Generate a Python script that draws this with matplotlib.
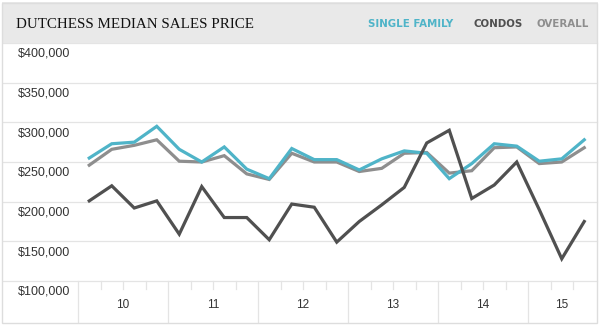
import matplotlib
matplotlib.use("Agg")
import matplotlib.pyplot as plt
import matplotlib.transforms as mtransforms
from matplotlib.patches import Rectangle
from matplotlib import font_manager

# Quarterly median sales prices, Q1 2010 through Q3 2015 (dollars)
single_family = [255000, 273000, 275000, 295000, 266000, 250000, 269000, 241000,
                 229000, 267000, 253000, 253000, 240000, 254000, 264000, 261000,
                 229000, 248000, 273000, 270000, 251000, 254000, 278000]
condos = [201000, 220000, 192000, 201000, 159000, 219000, 180000, 180000,
          152000, 197000, 193000, 149000, 175000, 196000, 218000, 274000,
          290000, 204000, 221000, 250000, 190000, 128000, 175000]
overall = [246000, 266000, 271000, 278000, 251000, 250000, 258000, 235000,
           228000, 261000, 250000, 250000, 238000, 242000, 261000, 262000,
           236000, 239000, 268000, 269000, 248000, 250000, 268000]

years = ["10", "11", "12", "13", "14", "15"]
quarters_per_year = [4, 4, 4, 4, 4, 3]
y_ticks = [100000, 150000, 200000, 250000, 300000, 350000, 400000]

TEAL = "#4fb4c8"
DARK = "#505050"
GRAY = "#8e8e8e"

# pick a condensed bold face for the legend words if one is installed
legend_font = None
for f in font_manager.fontManager.ttflist:
    if f.stretch in ("condensed", "semi-condensed", "extra-condensed") and \
            (f.weight in ("bold", 700) or str(f.weight) == "700"):
        legend_font = font_manager.FontProperties(fname=f.fname, size=8.2)
        break
if legend_font is None:
    legend_font = font_manager.FontProperties(family="Liberation Sans", weight="bold", size=8.1)

W, H = 600, 326
fig = plt.figure(figsize=(W / 100, H / 100), dpi=100)

def fx(px):
    return px / W

def fy(py):
    return 1 - py / H

# header band and outer frame
fig.patches.append(Rectangle((fx(2), fy(43)), fx(596), 41 / H, transform=fig.transFigure,
                             facecolor="#e9e9e9", edgecolor="none", zorder=0))
fig.patches.append(Rectangle((fx(2), fy(323)), fx(595), 320 / H, transform=fig.transFigure,
                             facecolor="none", edgecolor="#dddddd", lw=1, zorder=5))

fig.text(fx(16), fy(24), "DUTCHESS MEDIAN SALES PRICE", family="Liberation Serif",
         fontsize=10.8, color="#111111", va="center", ha="left")
for label, color, cx in [("SINGLE FAMILY", TEAL, 411), ("CONDOS", DARK, 498.5),
                         ("OVERALL", GRAY, 562.5)]:
    fig.text(fx(cx), fy(24), label, fontproperties=legend_font,
             color=color, va="center", ha="center")

left, right, top, bottom = 78, 595.5, 43, 281
ax = fig.add_axes([fx(left), fy(bottom), fx(right - left), (bottom - top) / H])
ax.set_xlim(-0.5, len(single_family) - 0.5)
ax.set_ylim(100000, 400000)
ax.axis("off")

span = right - left
xmin_grid = (3 - left) / span
xmax_grid = (597 - left) / span
ytrans = mtransforms.blended_transform_factory(ax.transAxes, ax.transData)
for v in y_ticks:
    ax.axhline(v, xmin=xmin_grid, xmax=xmax_grid, color="#e4e4e4", lw=0.9,
               clip_on=False, zorder=0)
    ax.annotate(f"${v:,}", xy=((18 - left) / span, v), xycoords=ytrans,
                xytext=(0, -3.5), textcoords="offset points", ha="left", va="top",
                family="Liberation Sans", fontsize=9, color="#333333")

# year separators, quarter ticks and year labels
xtrans = mtransforms.blended_transform_factory(ax.transData, ax.transAxes)
axis_depth = (322 - bottom) / (bottom - top)
tick_len = 8 / (bottom - top)
start = 0
for yr, nq in zip(years, quarters_per_year):
    b = start - 0.5
    ax.plot([b, b], [0, -axis_depth], transform=xtrans, color="#e4e4e4", lw=0.9,
            clip_on=False)
    for q in range(1, nq):
        t = b + q
        ax.plot([t, t], [0, -tick_len], transform=xtrans, color="#e4e4e4", lw=0.9,
                clip_on=False)
    ax.text(start + (nq - 1) / 2, -(305 - bottom) / (bottom - top), yr,
            transform=xtrans, ha="center", va="center", family="Liberation Sans",
            fontsize=8.5, color="#333333")
    start += nq

x = list(range(len(single_family)))
ax.plot(x, overall, color=GRAY, lw=2.3, zorder=3, solid_joinstyle="miter")
ax.plot(x, single_family, color=TEAL, lw=2.3, zorder=4, solid_joinstyle="miter")
ax.plot(x, condos, color=DARK, lw=2.3, zorder=5, solid_joinstyle="miter")

fig.savefig("out.png", dpi=100)
